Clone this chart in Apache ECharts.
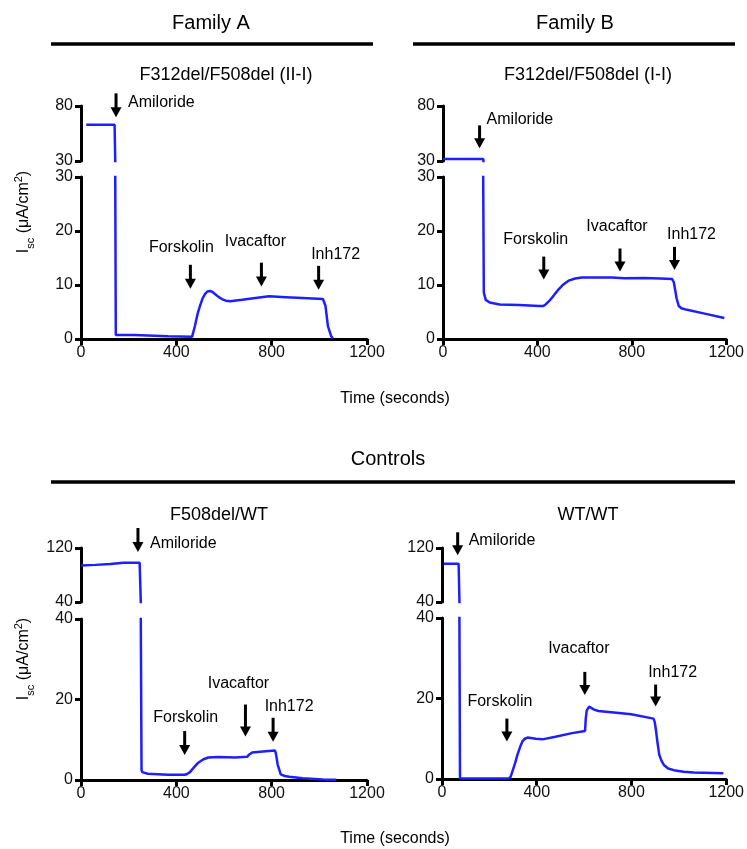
<!DOCTYPE html>
<html>
<head>
<meta charset="utf-8">
<title>Isc traces</title>
<script src="https://cdn.jsdelivr.net/npm/echarts@6/dist/echarts.min.js"></script>
<style>
  html, body { margin: 0; padding: 0; background: #fff; }
  #chart { width: 747px; height: 849px; }
</style>
</head>
<body>
<div id="chart"></div>
<script>
// time (s) / Isc (uA/cm2)
const timeA = [22, 141, 146, 223, 365, 466, 478, 490, 499, 510, 520, 530, 541, 552, 563, 577, 591, 608, 626, 676, 732, 789, 859, 930, 1015, 1026, 1036, 1050, 1057];
const iscA = [63, 63, 0.75, 0.75, 0.5, 0.4, 2.4, 4.8, 6.1, 7.5, 8.3, 8.8, 8.9, 8.7, 8.3, 7.8, 7.4, 7.1, 7.0, 7.25, 7.6, 7.9, 7.75, 7.6, 7.4, 6.1, 2.4, 0.5, 0.1];

const timeB = [0, 170, 173, 181, 198, 240, 323, 407, 425, 435, 449, 463, 477, 491, 510, 532, 560, 588, 650, 714, 769, 853, 920, 971, 978, 983, 990, 999, 1010, 1034, 1104, 1192];
const iscB = [31.8, 31.8, 8.6, 7.25, 6.75, 6.4, 6.3, 6.1, 6.1, 6.4, 7.0, 7.7, 8.5, 9.25, 10.1, 10.8, 11.2, 11.4, 11.4, 11.4, 11.25, 11.3, 11.2, 11.1, 10.5, 9.25, 7.5, 6.1, 5.7, 5.4, 4.75, 3.9];

const timeC = [0, 60, 123, 179, 246, 249, 254, 257, 280, 365, 435, 445, 457, 475, 492, 512, 534, 577, 647, 697, 705, 718, 775, 814, 818, 825, 838, 855, 874, 930, 1015, 1071];
const iscC = [94, 95, 96.3, 98.3, 98, 98, 2.5, 1.95, 1.55, 1.3, 1.3, 1.5, 1.95, 3.2, 4.3, 5.1, 5.6, 5.7, 5.6, 5.75, 6.3, 6.85, 7.15, 7.3, 6.5, 3.9, 1.4, 1.0, 0.8, 0.45, 0.15, 0.05];

const timeD = [7, 70, 76, 150, 282, 290, 299, 309, 319, 330, 340, 350, 361, 396, 424, 479, 549, 604, 607, 611, 621, 640, 660, 715, 799, 893, 898, 903, 910, 917, 927, 938, 955, 979, 1020, 1063, 1188];
const iscD = [96.8, 96.8, 0.15, 0.1, 0.1, 0.6, 2.2, 4.0, 6.1, 8.0, 9.4, 10.0, 10.3, 10.0, 9.85, 10.5, 11.4, 11.95, 15, 17, 18, 17.3, 16.9, 16.6, 16.1, 15, 14.2, 12.3, 9, 6.1, 4.5, 3.4, 2.6, 2.2, 1.8, 1.6, 1.4];

// additions: names, times (s) and the Isc value each arrow points at
const eventNames = ['Amiloride', 'Forskolin', 'Ivacaftor', 'Inh172'];
const eventTimeA = [147, 459, 757, 997];
const eventTipA = [69.7, 9.3, 9.7, 9.1];
const eventTimeB = [154, 427, 750, 981];
const eventTipB = [41.5, 11.0, 12.5, 12.8];
const eventTimeC = [239, 435, 690, 806];
const eventTipC = [114.1, 6.2, 10.8, 9.5];
const eventTimeD = [66, 274, 603, 902];
const eventTipD = [109.2, 9.3, 20.9, 18.0];

// tick labels
const xTicks = [0, 400, 800, 1200];
const familyUpTicks = [30, 80];
const familyLowTicks = [0, 10, 20, 30];
const controlUpTicks = [40, 120];
const controlLowTicks = [0, 20, 40];

const panelTitles = ['F312del/F508del (II-I)', 'F312del/F508del (I-I)', 'F508del/WT', 'WT/WT'];

const FONT = '"Liberation Sans", Arial, sans-serif';
const BLUE = '#1e1eff';

const panels = [
  { time: timeA, isc: iscA, evT: eventTimeA, evV: eventTipA, up: familyUpTicks, low: familyLowTicks,
    x: 81, w: 286, upTop: 106, upH: 55, lowTop: 177, lowH: 162, titleX: 226, titleY: 75 },
  { time: timeB, isc: iscB, evT: eventTimeB, evV: eventTipB, up: familyUpTicks, low: familyLowTicks,
    x: 443, w: 285, upTop: 106, upH: 55, lowTop: 177, lowH: 162, titleX: 588, titleY: 75 },
  { time: timeC, isc: iscC, evT: eventTimeC, evV: eventTipC, up: controlUpTicks, low: controlLowTicks,
    x: 81, w: 286, upTop: 548, upH: 54, lowTop: 619, lowH: 161, titleX: 219, titleY: 515 },
  { time: timeD, isc: iscD, evT: eventTimeD, evV: eventTipD, up: controlUpTicks, low: controlLowTicks,
    x: 442, w: 285, upTop: 548, upH: 54, lowTop: 618, lowH: 161, titleX: 588, titleY: 515 }
];

// label offset from arrow tip [dx, dy, align, arrow length]
const labelLayout = [
  [[12, -15, 'left', 24], [-9, -41, 'center', 24], [-6, -45, 'center', 24], [17, -35, 'center', 24]],
  [[7, -29, 'left', 23], [-8, -40, 'center', 23], [-3, -45, 'center', 23], [17, -35, 'center', 23]],
  [[12, -8, 'left', 24], [1, -37, 'center', 24], [-7, -53, 'center', 32], [16, -35, 'center', 24]],
  [[11, -15, 'left', 23], [-7, -40, 'center', 23], [-6, -46, 'center', 23], [17, -34, 'center', 22]]
];

const axisLine = { show: true, lineStyle: { color: '#000', width: 3 } };
const axisTick = { show: true, length: 6, lineStyle: { color: '#000', width: 3 } };
const tickLabel = { color: '#111', fontSize: 16, fontFamily: FONT, formatter: function (v) { return String(v); } };

function arrowRenderer(pi) {
  return function (params, api) {
    const k = api.value(2);
    const p = api.coord([api.value(0), api.value(1)]);
    const [dx, dy, align, len] = labelLayout[pi][k];
    const x = p[0], y = p[1];
    return {
      type: 'group',
      children: [
        { type: 'rect', shape: { x: x - 1.5, y: y - len, width: 3, height: len - 9 }, style: { fill: '#000' } },
        { type: 'polygon', shape: { points: [[x - 5.5, y - 10], [x + 5.5, y - 10], [x, y]] }, style: { fill: '#000' } },
        { type: 'text', x: x + dx, y: y + dy,
          style: { text: eventNames[k], font: '16px ' + FONT, fill: '#000', align: align, verticalAlign: 'middle' } }
      ]
    };
  };
}

const grid = [], xAxis = [], yAxis = [], series = [];
panels.forEach(function (p, pi) {
  const gu = pi * 2, gl = pi * 2 + 1;
  grid.push({ left: p.x, top: p.upTop, width: p.w, height: p.upH });
  grid.push({ left: p.x, top: p.lowTop, width: p.w, height: p.lowH });

  xAxis.push({ type: 'value', gridIndex: gu, min: xTicks[0], max: xTicks[xTicks.length - 1], show: false });
  xAxis.push({ type: 'value', gridIndex: gl, min: xTicks[0], max: xTicks[xTicks.length - 1],
    interval: xTicks[1] - xTicks[0], axisLine: axisLine, axisTick: axisTick, splitLine: { show: false },
    axisLabel: Object.assign({ margin: 6 }, tickLabel) });

  yAxis.push({ type: 'value', gridIndex: gu, min: p.up[0], max: p.up[1], interval: p.up[1] - p.up[0],
    axisLine: axisLine, axisTick: axisTick, splitLine: { show: false },
    axisLabel: Object.assign({ margin: 8 }, tickLabel) });
  yAxis.push({ type: 'value', gridIndex: gl, min: p.low[0], max: p.low[p.low.length - 1], interval: p.low[1] - p.low[0],
    axisLine: axisLine, axisTick: axisTick, splitLine: { show: false },
    axisLabel: Object.assign({ margin: 8 }, tickLabel) });

  const pts = p.time.map(function (t, i) { return [t, p.isc[i]]; });
  [gu, gl].forEach(function (g) {
    series.push({ type: 'line', xAxisIndex: g, yAxisIndex: g, data: pts, showSymbol: false, symbol: 'none',
      clip: true, silent: true, lineStyle: { color: BLUE, width: 2.5 } });
  });

  const ev = p.evT.map(function (t, k) { return [t, p.evV[k], k]; });
  series.push({ type: 'custom', xAxisIndex: gu, yAxisIndex: gu, data: ev.slice(0, 1), renderItem: arrowRenderer(pi), silent: true });
  series.push({ type: 'custom', xAxisIndex: gl, yAxisIndex: gl, data: ev.slice(1), renderItem: arrowRenderer(pi), silent: true });
});

function txt(text, x, y, size) {
  return { type: 'text', x: x, y: y,
    style: { text: text, font: size + 'px ' + FONT, fill: '#000', align: 'center', verticalAlign: 'middle' } };
}
function rule(x1, x2, y) {
  return { type: 'line', shape: { x1: x1, y1: y, x2: x2, y2: y }, style: { stroke: '#000', lineWidth: 3.5 } };
}
function yLabel(x, y) {
  return { type: 'text', x: x, y: y, rotation: Math.PI / 2,
    style: {
      text: '{m|I}{s|sc}{m| (μA/cm}{p|2}{m|)}',
      align: 'center', verticalAlign: 'middle',
      rich: {
        m: { fontSize: 16, fontFamily: FONT, color: '#111' },
        s: { fontSize: 11, fontFamily: FONT, color: '#111', padding: [13, 0, 0, 0] },
        p: { fontSize: 11, fontFamily: FONT, color: '#111', padding: [0, 0, 10, 0] }
      }
    } };
}

const graphic = [
  txt('Family A', 211, 23, 20), rule(51, 373, 44),
  txt('Family B', 575, 23, 20), rule(413, 735, 44),
  txt('Controls', 388, 459, 20), rule(51, 735, 482),
  txt('Time (seconds)', 395, 399, 16), txt('Time (seconds)', 395, 839, 16),
  yLabel(24, 212), yLabel(24, 659)
];
panels.forEach(function (p, pi) { graphic.push(txt(panelTitles[pi], p.titleX, p.titleY, 18)); });

const chart = echarts.init(document.getElementById('chart'), null, { renderer: 'canvas' });
chart.setOption({
  animation: false,
  backgroundColor: '#fff',
  grid: grid,
  xAxis: xAxis,
  yAxis: yAxis,
  series: series,
  graphic: graphic
});
</script>
</body>
</html>
